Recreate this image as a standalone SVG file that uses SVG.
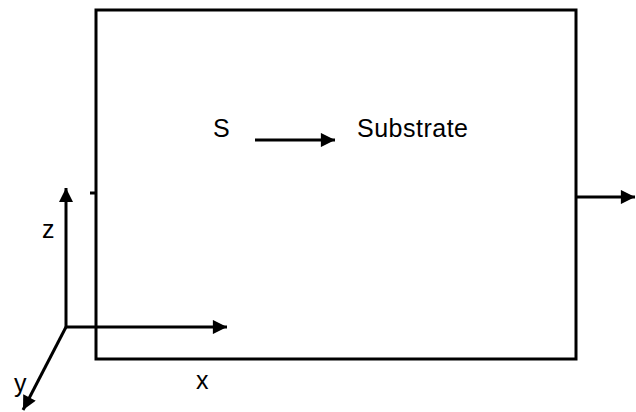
<svg xmlns="http://www.w3.org/2000/svg" width="636" height="412" viewBox="0 0 636 412">
<defs>
<marker id="ah" viewBox="0 0 10 10" refX="10" refY="5" markerWidth="5" markerHeight="4.7" markerUnits="strokeWidth" orient="auto">
<path d="M0,0 L10,5 L0,10 Z" fill="#000"/>
</marker>
</defs>
<style>
.t{font-family:"Liberation Sans",Arial,sans-serif;font-size:25px;fill:#000}
.l{stroke:#000;stroke-width:3;fill:none}
.a{stroke:#000;stroke-width:3;fill:none;marker-end:url(#ah)}
</style>
<rect width="636" height="412" fill="#fff"/>
<g id="substrate-box">
<rect x="96" y="10" width="480" height="349" class="l"/>
<line x1="90" y1="193" x2="96" y2="193" class="l"/>
</g>
<g id="label-S"><text class="t" x="213" y="137">S</text></g>
<g id="label-substrate"><text class="t" x="357" y="137" textLength="111">Substrate</text></g>
<g id="axes">
<text class="t" x="42" y="238">z</text>
<text class="t" x="196" y="389">x</text>
<text class="t" x="14" y="392">y</text>
</g>
<g id="connectors">
<line x1="255" y1="140" x2="335" y2="140" class="a"/>
<line x1="576" y1="197" x2="635" y2="197" class="a"/>
<line x1="66" y1="327" x2="66" y2="188" class="a"/>
<line x1="66" y1="327" x2="227" y2="327" class="a"/>
<line x1="66" y1="327" x2="23" y2="410" class="a"/>
</g>
</svg>
